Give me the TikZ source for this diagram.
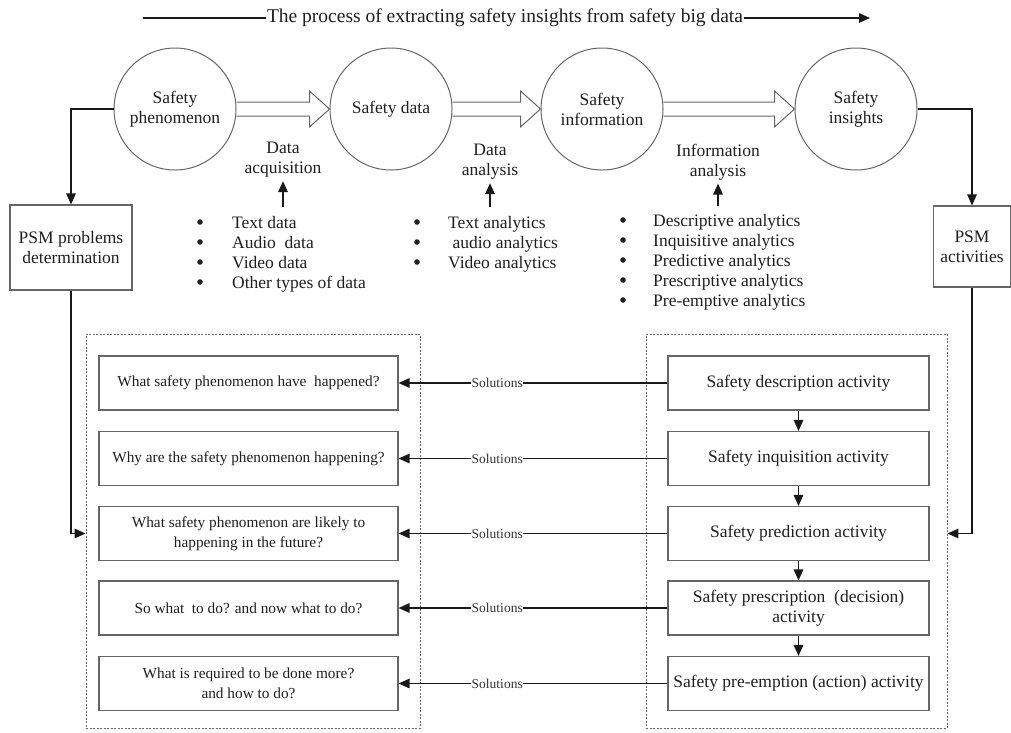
\documentclass[tikz,border=0pt]{standalone}
\usepackage{fontspec}
\setmainfont{Liberation Serif}
\usetikzlibrary{arrows.meta,calc}
\newcommand\bl[1]{\makebox[#1][l]{}}
\newcommand\hollowarr[2]{%
  \draw[hollow] ($(#1.east)+(0,-7)$) -- ($(#2.west)+(-20,-7)$) -- ($(#2.west)+(-20,-18)$) -- (#2.west)
     -- ($(#2.west)+(-20,18)$) -- ($(#2.west)+(-20,7)$) -- ($(#1.east)+(0,7)$);}
\begin{document}
\begin{tikzpicture}[x=1pt,y=-1pt,
  txt/.style={font=\fontsize{17.5pt}{20pt}\selectfont, text=black!88, align=center},
  lst/.style={font=\fontsize{17.5pt}{20pt}\selectfont, text=black!88, align=left, inner sep=0pt, anchor=north west},
  circ/.style={circle, draw=black!60, line width=1pt, minimum size=122pt, inner sep=0pt, txt},
  hollow/.style={draw=black!60, line width=1pt, line join=miter},
  pbox/.style={rectangle, draw=black!60, line width=1.1pt, txt},
  dbox/.style={rectangle, draw=black!60, line width=0.8pt, dash pattern=on 2pt off 1.5pt},
  qbox/.style={rectangle, draw=black!60, line width=1.1pt, minimum width=299pt, minimum height=54pt,
     font=\fontsize{15.3pt}{20pt}\selectfont, text=black!88, align=center},
  rbox/.style={rectangle, draw=black!60, line width=1.1pt, minimum width=261pt, minimum height=54pt, txt},
  sol/.style={font=\fontsize{13.5pt}{15pt}\selectfont, text=black!80, fill=white, inner sep=0.5pt},
  arr/.style={draw=black!90, line width=1.5pt, -{Triangle[length=11pt,width=9.5pt]}},
  plain/.style={draw=black!90, line width=1.5pt},
  dot/.style={fill=black!88}
]
\useasboundingbox (0,0) rectangle (1011,732);
\fill[white] (0,0) rectangle (1011,732);

% title
\node[font=\fontsize{19.5pt}{22pt}\selectfont, text=black!88, inner sep=1pt] (title) at (505,18)
  {The process of extracting safety insights from safety big data};
\coordinate (tl) at (143,18);
\coordinate (tr) at (870,18);
\draw[plain] (tl) -- (title.west);
\draw[arr] (title.east) -- (tr);

% circles
\node[circ] (c1) at (175,109) {Safety\\phenomenon};
\node[circ] (c2) at (391,109) {Safety data};
\node[circ] (c3) at (602,109) {Safety\\information};
\node[circ] (c4) at (856,109) {Safety\\insights};
\hollowarr{c1}{c2}
\hollowarr{c2}{c3}
\hollowarr{c3}{c4}

% labels
\node[txt] (l1) at (283,160) {Data\\acquisition};
\node[txt] (l2) at (490,162) {Data\\analysis};
\node[txt] (l3) at (718,162) {Information\\analysis};

% lists
\node[lst] (b1) at (197,216) {\bl{35pt}Text data\\\bl{35pt}Audio\ \ data\\\bl{35pt}Video data\\\bl{35pt}Other types of data};
\node[lst] (b2) at (414,216) {\bl{34pt}Text analytics\\\bl{34pt}\ audio analytics\\\bl{34pt}Video analytics};
\node[lst] (b3) at (620,214) {\bl{33pt}Descriptive analytics\\\bl{33pt}Inquisitive analytics\\\bl{33pt}Predictive analytics\\\bl{33pt}Prescriptive analytics\\\bl{33pt}Pre-emptive analytics};
\foreach \k in {0,...,3} \fill[dot] ($(b1.north west)+(3,6+20*\k)$) circle (2.8pt);
\foreach \k in {0,...,2} \fill[dot] ($(b2.north west)+(3,6+20*\k)$) circle (2.8pt);
\foreach \k in {0,...,4} \fill[dot] ($(b3.north west)+(3,6+20*\k)$) circle (2.8pt);

\coordinate (u1) at (283,207);
\coordinate (u2) at (490,207);
\coordinate (u3) at (718,206);
\draw[arr] (u1) -- (l1.south);
\draw[arr] (u2) -- (l2.south);
\draw[arr] (u3) -- (l3.south);

% PSM boxes
\node[pbox, minimum width=122pt, minimum height=85pt] (p1) at (71,247.5) {PSM problems\\determination};
\node[pbox, minimum width=77pt, minimum height=81pt] (p2) at (972,246.5) {PSM\\activities};

% dashed containers
\node[dbox, minimum width=334pt, minimum height=394pt] (ld) at (253,531) {};
\node[dbox, minimum width=301pt, minimum height=394pt] (rd) at (796.5,531) {};

% question boxes
\node[qbox] (q1) at (248.5,383) {What safety phenomenon have\ \ happened?};
\node[qbox] (q2) at (248.5,458.5) {Why are the safety phenomenon happening?};
\node[qbox] (q3) at (248.5,533.5) {What safety phenomenon are likely to\\happening in the future?};
\node[qbox] (q4) at (248.5,608) {So what\ \ to do? and now what to do?};
\node[qbox] (q5) at (248.5,683.5) {What is required to be done more?\\and how to do?};

% activity boxes
\node[rbox] (r1) at (798.5,383) {Safety description activity};
\node[rbox] (r2) at (798.5,458.5) {Safety inquisition activity};
\node[rbox] (r3) at (798.5,533.5) {Safety prediction activity};
\node[rbox] (r4) at (798.5,608) {Safety prescription\ \ (decision)\\activity};
\node[rbox] (r5) at (798.5,683.5) {Safety pre-emption (action) activity};

\foreach \i in {1,...,5}
  \draw[arr] (r\i.west) -- node[sol, pos=0.633] {Solutions} (q\i.east);
\foreach \i/\j in {1/2,2/3,3/4,4/5}
  \draw[arr] (r\i.south) -- (r\j.north);

% PSM connectors
\draw[arr] (c1.west) -| (p1.north);
\draw[arr] (p1.south) |- (q3 -| ld.west);
\draw[arr] (c4.east) -| (p2.north);
\draw[arr] (p2.south) |- (r3 -| rd.east);
\end{tikzpicture}
\end{document}
